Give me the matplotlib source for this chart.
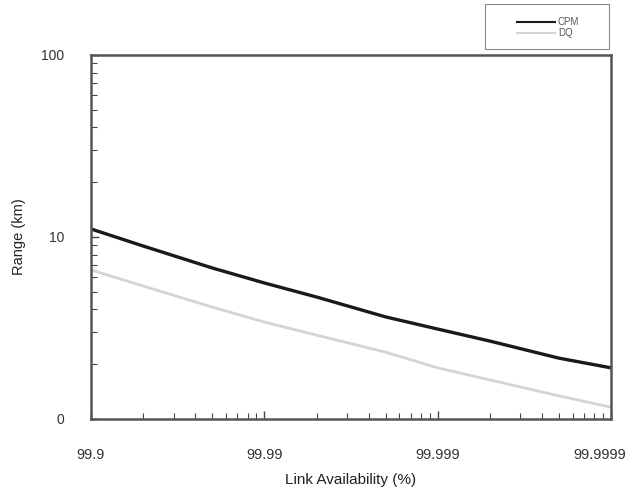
import matplotlib
matplotlib.use('Agg')
import matplotlib.pyplot as plt
import matplotlib.ticker as mticker
import matplotlib.transforms as mtransforms
from matplotlib.patches import Rectangle
import numpy as np

# link availability (%) sample points and range (km)
availability = [99.9, 99.95, 99.98, 99.99, 99.995, 99.998, 99.999, 99.9995, 99.9998, 99.9999]
range_cpm = [11.07, 8.92, 6.76, 5.59, 4.68, 3.64, 3.12, 2.68, 2.16, 1.91]
range_dq = [6.59, 5.38, 4.12, 3.41, 2.89, 2.33, 1.91, 1.64, 1.34, 1.16]

xtick_avail = [99.9, 99.99, 99.999, 99.9999]
xtick_labels = ['99.9', '99.99', '99.999', '99.9999']
ytick_vals = [1, 10, 100]
ytick_labels = ['0', '10', '100']

plt.rcParams['font.family'] = ['Liberation Sans', 'DejaVu Sans']

fig = plt.figure(figsize=(6.28, 4.90), dpi=100)
ax = fig.add_axes([0.1449, 0.1449, 0.8281, 0.7429])

# x is 1/unavailability on a log scale, so availability grows to the right
def avail_to_x(a):
    return 1.0 / (100 - np.array(a))

ax.plot(avail_to_x(availability), range_cpm, color='#1a1a1a', lw=2.4, label='CPM')
ax.plot(avail_to_x(availability), range_dq, color='#d4d4d4', lw=2.0, label='DQ')

ax.set_xscale('log')
ax.set_yscale('log')
ax.set_xlim(avail_to_x(99.9), avail_to_x(99.9999))
ax.set_ylim(1, 100)

ax.set_xticks(avail_to_x(xtick_avail))
ax.set_xticklabels(xtick_labels)
ax.set_yticks(ytick_vals)
ax.set_yticklabels(ytick_labels)
ax.xaxis.set_minor_locator(mticker.LogLocator(base=10, subs=np.arange(2, 10)))
ax.yaxis.set_minor_locator(mticker.LogLocator(base=10, subs=np.arange(2, 10)))
ax.xaxis.set_minor_formatter(mticker.NullFormatter())
ax.yaxis.set_minor_formatter(mticker.NullFormatter())

ax.tick_params(which='both', direction='in', color='#444444', labelcolor='#333333')
ax.tick_params(which='major', length=6, width=1.0)
ax.tick_params(which='minor', length=4, width=0.8)
ax.tick_params(axis='y', pad=19, labelsize=10)
ax.tick_params(axis='x', pad=21, labelsize=10.5)

# last label sits a bit left of its tick so it stays inside the figure
last = ax.get_xticklabels()[-1]
last.set_transform(last.get_transform() + mtransforms.ScaledTranslation(-11 / 100, 0, fig.dpi_scale_trans))

for s in ax.spines.values():
    s.set_color('#555555')
    s.set_linewidth(1.8)

ax.set_xlabel('Link Availability (%)', fontsize=11, color='#222222', labelpad=8)
ax.set_ylabel('Range (km)', fontsize=10.5, color='#222222', labelpad=11)

# legend box in the top-right corner, above the axes
fig.patches.append(Rectangle((485 / 628, 1 - 49 / 490), 124 / 628, 45 / 490,
                             transform=fig.transFigure, fill=False,
                             edgecolor='#888888', lw=0.8))
leg = fig.legend(loc='center left', bbox_to_anchor=(517 / 628, 1 - 27.5 / 490), fontsize=7,
                 frameon=False, handlelength=3.9, borderpad=0, borderaxespad=0,
                 labelspacing=0.1, handletextpad=0.3)
for t in leg.get_texts():
    t.set_color('#555555')
for h in leg.get_lines():
    h.set_linewidth(1.5)

fig.savefig('out.png', dpi=100)
